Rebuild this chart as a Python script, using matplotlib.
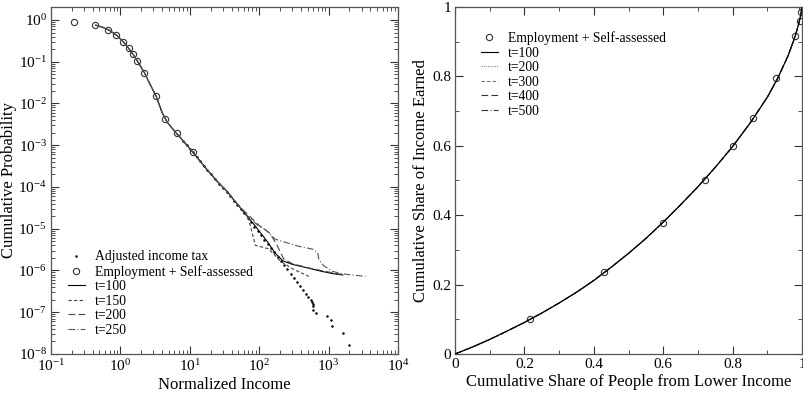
import matplotlib
matplotlib.use("Agg")
import matplotlib.pyplot as plt
from matplotlib.ticker import LogLocator, NullFormatter, MultipleLocator, FixedLocator

plt.rcParams['font.family'] = ['Liberation Serif', 'DejaVu Serif']
plt.rcParams['mathtext.fontset'] = 'stix'

# ---- left: cumulative probability of normalized income ----
tax_income = [8, 9, 10, 11, 12.5, 14, 16, 18, 20, 23, 26, 30, 34, 38, 43, 48,
              54, 60, 68, 76, 85, 95, 106, 118, 132, 147, 165, 185, 205, 230,
              255, 285, 315, 350, 390, 430, 470, 510, 550, 580, 592, 600, 605,
              667, 940, 1085, 1130, 1615, 1995]
tax_prob = [1.27e-3, 1.0e-3, 8.1e-4, 6.7e-4, 5.2e-4, 4.15e-4, 3.17e-4, 2.5e-4,
            2.03e-4, 1.55e-4, 1.21e-4, 9.3e-5, 7.6e-5, 6.0e-5, 4.6e-5, 3.7e-5,
            2.9e-5, 2.35e-5, 1.8e-5, 1.42e-5, 1.12e-5, 8.9e-6, 7.0e-6, 5.5e-6,
            4.35e-6, 3.45e-6, 2.7e-6, 2.1e-6, 1.7e-6, 1.33e-6, 1.07e-6, 8.4e-7,
            6.7e-7, 5.3e-7, 4.2e-7, 3.4e-7, 2.8e-7, 2.35e-7, 2.0e-7, 1.8e-7,
            1.6e-7, 1.4e-7, 1.15e-7, 9.7e-8, 8.0e-8, 6.4e-8, 4.8e-8, 3.2e-8,
            1.6e-8]

survey_income = [0.217, 0.436, 0.656, 0.875, 1.09, 1.32, 1.52, 1.74, 2.22,
                 3.27, 4.35, 6.6, 11.0]
survey_prob = [0.88, 0.75, 0.586, 0.43, 0.30, 0.21, 0.154, 0.105, 0.055,
               0.0147, 0.0043, 0.0020, 6.7e-4]

# shared body of the simulated distributions
sim_head_x = [0.44, 0.55, 0.7, 0.9, 1.1, 1.3, 1.5, 1.75, 2.2, 2.7, 3.3, 4.0,
              4.7, 6.0, 7.75, 11, 17.7, 25, 34.5, 45]
sim_head_y = [0.75, 0.67, 0.56, 0.42, 0.30, 0.215, 0.155, 0.105, 0.056, 0.028,
              0.0145, 0.0060, 3.6e-3, 2.2e-3, 1.36e-3, 6.9e-4, 2.6e-4, 1.35e-4,
              7.8e-5, 4.5e-5]

t100_x = [60, 90, 130, 170, 220, 300, 500, 800, 1200, 1600]
t100_y = [2.5e-5, 1.1e-5, 5.0e-6, 2.6e-6, 1.7e-6, 1.4e-6, 1.15e-6, 9.5e-7, 8.3e-7, 7.8e-7]
t150_x = [55, 70, 88, 137, 200, 300, 420, 520]
t150_y = [3.0e-5, 1.8e-5, 4.0e-6, 3.3e-6, 1.7e-6, 1.1e-6, 8.5e-7, 7.2e-7]
t200_x = [60, 100, 140, 175, 225, 300, 520, 900, 1550]
t200_y = [2.7e-5, 1.2e-5, 8.0e-6, 4.5e-6, 1.9e-6, 1.45e-6, 1.15e-6, 9.5e-7, 8.0e-7]
t250_x = [63, 98, 123, 171, 213, 371, 610, 700, 725, 850, 1125, 1570, 3400]
t250_y = [2.3e-5, 1.15e-5, 9.5e-6, 5.6e-6, 5.0e-6, 3.8e-6, 3.2e-6, 2.6e-6,
          1.8e-6, 1.3e-6, 9.6e-7, 8.3e-7, 7.2e-7]

# ---- right: Lorenz curve ----
lorenz_people = [0.215, 0.43, 0.60, 0.72, 0.80, 0.86, 0.925, 0.98, 0.993, 0.998, 1.0]
lorenz_income = [0.10, 0.237, 0.378, 0.50, 0.60, 0.68, 0.795, 0.915, 0.96, 0.985, 1.0]
lorenz_people_sim = [0, 0.05, 0.1, 0.15, 0.2, 0.25, 0.3, 0.35, 0.4, 0.45, 0.5,
                     0.55, 0.6, 0.65, 0.7, 0.75, 0.8, 0.85, 0.9, 0.93, 0.96,
                     0.98, 0.99, 0.997, 1.0]
lorenz_income_sim = [0, 0.02, 0.042, 0.066, 0.091, 0.118, 0.147, 0.178, 0.212,
                     0.25, 0.29, 0.333, 0.38, 0.43, 0.482, 0.538, 0.598, 0.665,
                     0.74, 0.795, 0.86, 0.915, 0.95, 0.98, 1.0]
lorenz_steps = ['t=100', 't=200', 't=300', 't=400', 't=500']
share_ticks = [0, 0.2, 0.4, 0.6, 0.8, 1]
share_labels = ['0', '0.2', '0.4', '0.6', '0.8', '1']

fig = plt.figure(figsize=(8.04, 3.98), dpi=100)
ax1 = fig.add_axes([0.0634, 0.1106, 0.4316, 0.872])
ax2 = fig.add_axes([0.566, 0.1106, 0.4316, 0.872])

leg_kw = dict(frameon=False, fontsize=9.8, handlelength=1.25,
              handletextpad=0.75, borderaxespad=0, labelspacing=0.11)

ax1.plot(tax_income, tax_prob, ls='none', marker='.', ms=1.6, color='black',
         label='Adjusted income tax')
ax1.plot(survey_income, survey_prob, ls='none', marker='o', ms=4.5, mfc='none',
         mec='#333333', mew=0.8, label='Employment + Self-assessed')
ax1.plot(sim_head_x + t100_x, sim_head_y + t100_y, color='black', ls='-',
         lw=0.8, label='t=100')
ax1.plot(sim_head_x + t150_x, sim_head_y + t150_y, color='#444444',
         ls=(0, (3, 2)), lw=0.8, label='t=150')
ax1.plot(sim_head_x + t200_x, sim_head_y + t200_y, color='#444444',
         ls=(0, (6, 3)), lw=0.8, label='t=200')
ax1.plot(sim_head_x + t250_x, sim_head_y + t250_y, color='#555555',
         ls=(0, (6, 2, 1, 2)), lw=0.8, label='t=250')

ax1.set_xscale('log')
ax1.set_yscale('log')
ax1.set_xlim(0.1, 1e4)
ax1.set_ylim(1e-8, 2.05)
ax1.xaxis.set_major_locator(LogLocator(base=10, numticks=20))
ax1.yaxis.set_major_locator(LogLocator(base=10, numticks=20))
for axis in (ax1.xaxis, ax1.yaxis):
    axis.set_minor_locator(LogLocator(base=10, subs=range(2, 10), numticks=20))
    axis.set_minor_formatter(NullFormatter())
ax1.set_xlabel('Normalized Income', fontsize=12, labelpad=2)
ax1.set_ylabel('Cumulative Probability', fontsize=12, labelpad=1)
ax1.legend(loc='lower left', bbox_to_anchor=(0.033, 0.034), **leg_kw)

ax2.plot(lorenz_people, lorenz_income, ls='none', marker='o', ms=4.5, mfc='none',
         mec='#333333', mew=0.8, label='Employment + Self-assessed')
styles = ['-', (0, (1, 1)), (0, (3, 2)), (0, (6, 3)), (0, (6, 2, 1, 2))]
colors = ['black', '#888888', '#777777', '#333333', '#333333']
for step, ls, c in zip(lorenz_steps, styles, colors):
    ax2.plot(lorenz_people_sim, lorenz_income_sim, color=c, ls=ls, lw=0.8,
             label=step, zorder=1 if step != 't=100' else 3)
ax2.set_xlim(0, 1)
ax2.set_ylim(0, 1)
ax2.xaxis.set_major_locator(FixedLocator(share_ticks))
ax2.yaxis.set_major_locator(FixedLocator(share_ticks))
ax2.set_xticklabels(share_labels)
ax2.set_yticklabels(share_labels)
ax2.xaxis.set_minor_locator(MultipleLocator(0.1))
ax2.yaxis.set_minor_locator(MultipleLocator(0.1))
ax2.set_xlabel('Cumulative Share of People from Lower Income', fontsize=12, labelpad=2)
ax2.set_ylabel('Cumulative Share of Income Earned', fontsize=12, labelpad=2)
ax2.legend(loc='upper left', bbox_to_anchor=(0.058, 0.945), **leg_kw)

for ax in (ax1, ax2):
    ax.tick_params(which='both', direction='in', top=True, right=True,
                   labelsize=11, pad=3, color='#333333')
    ax.tick_params(which='major', length=6, width=0.8)
    ax.tick_params(which='minor', length=3, width=0.6)
    for sp in ax.spines.values():
        sp.set_color('#555555')
        sp.set_linewidth(0.9)

fig.savefig('out.png', dpi=100)
